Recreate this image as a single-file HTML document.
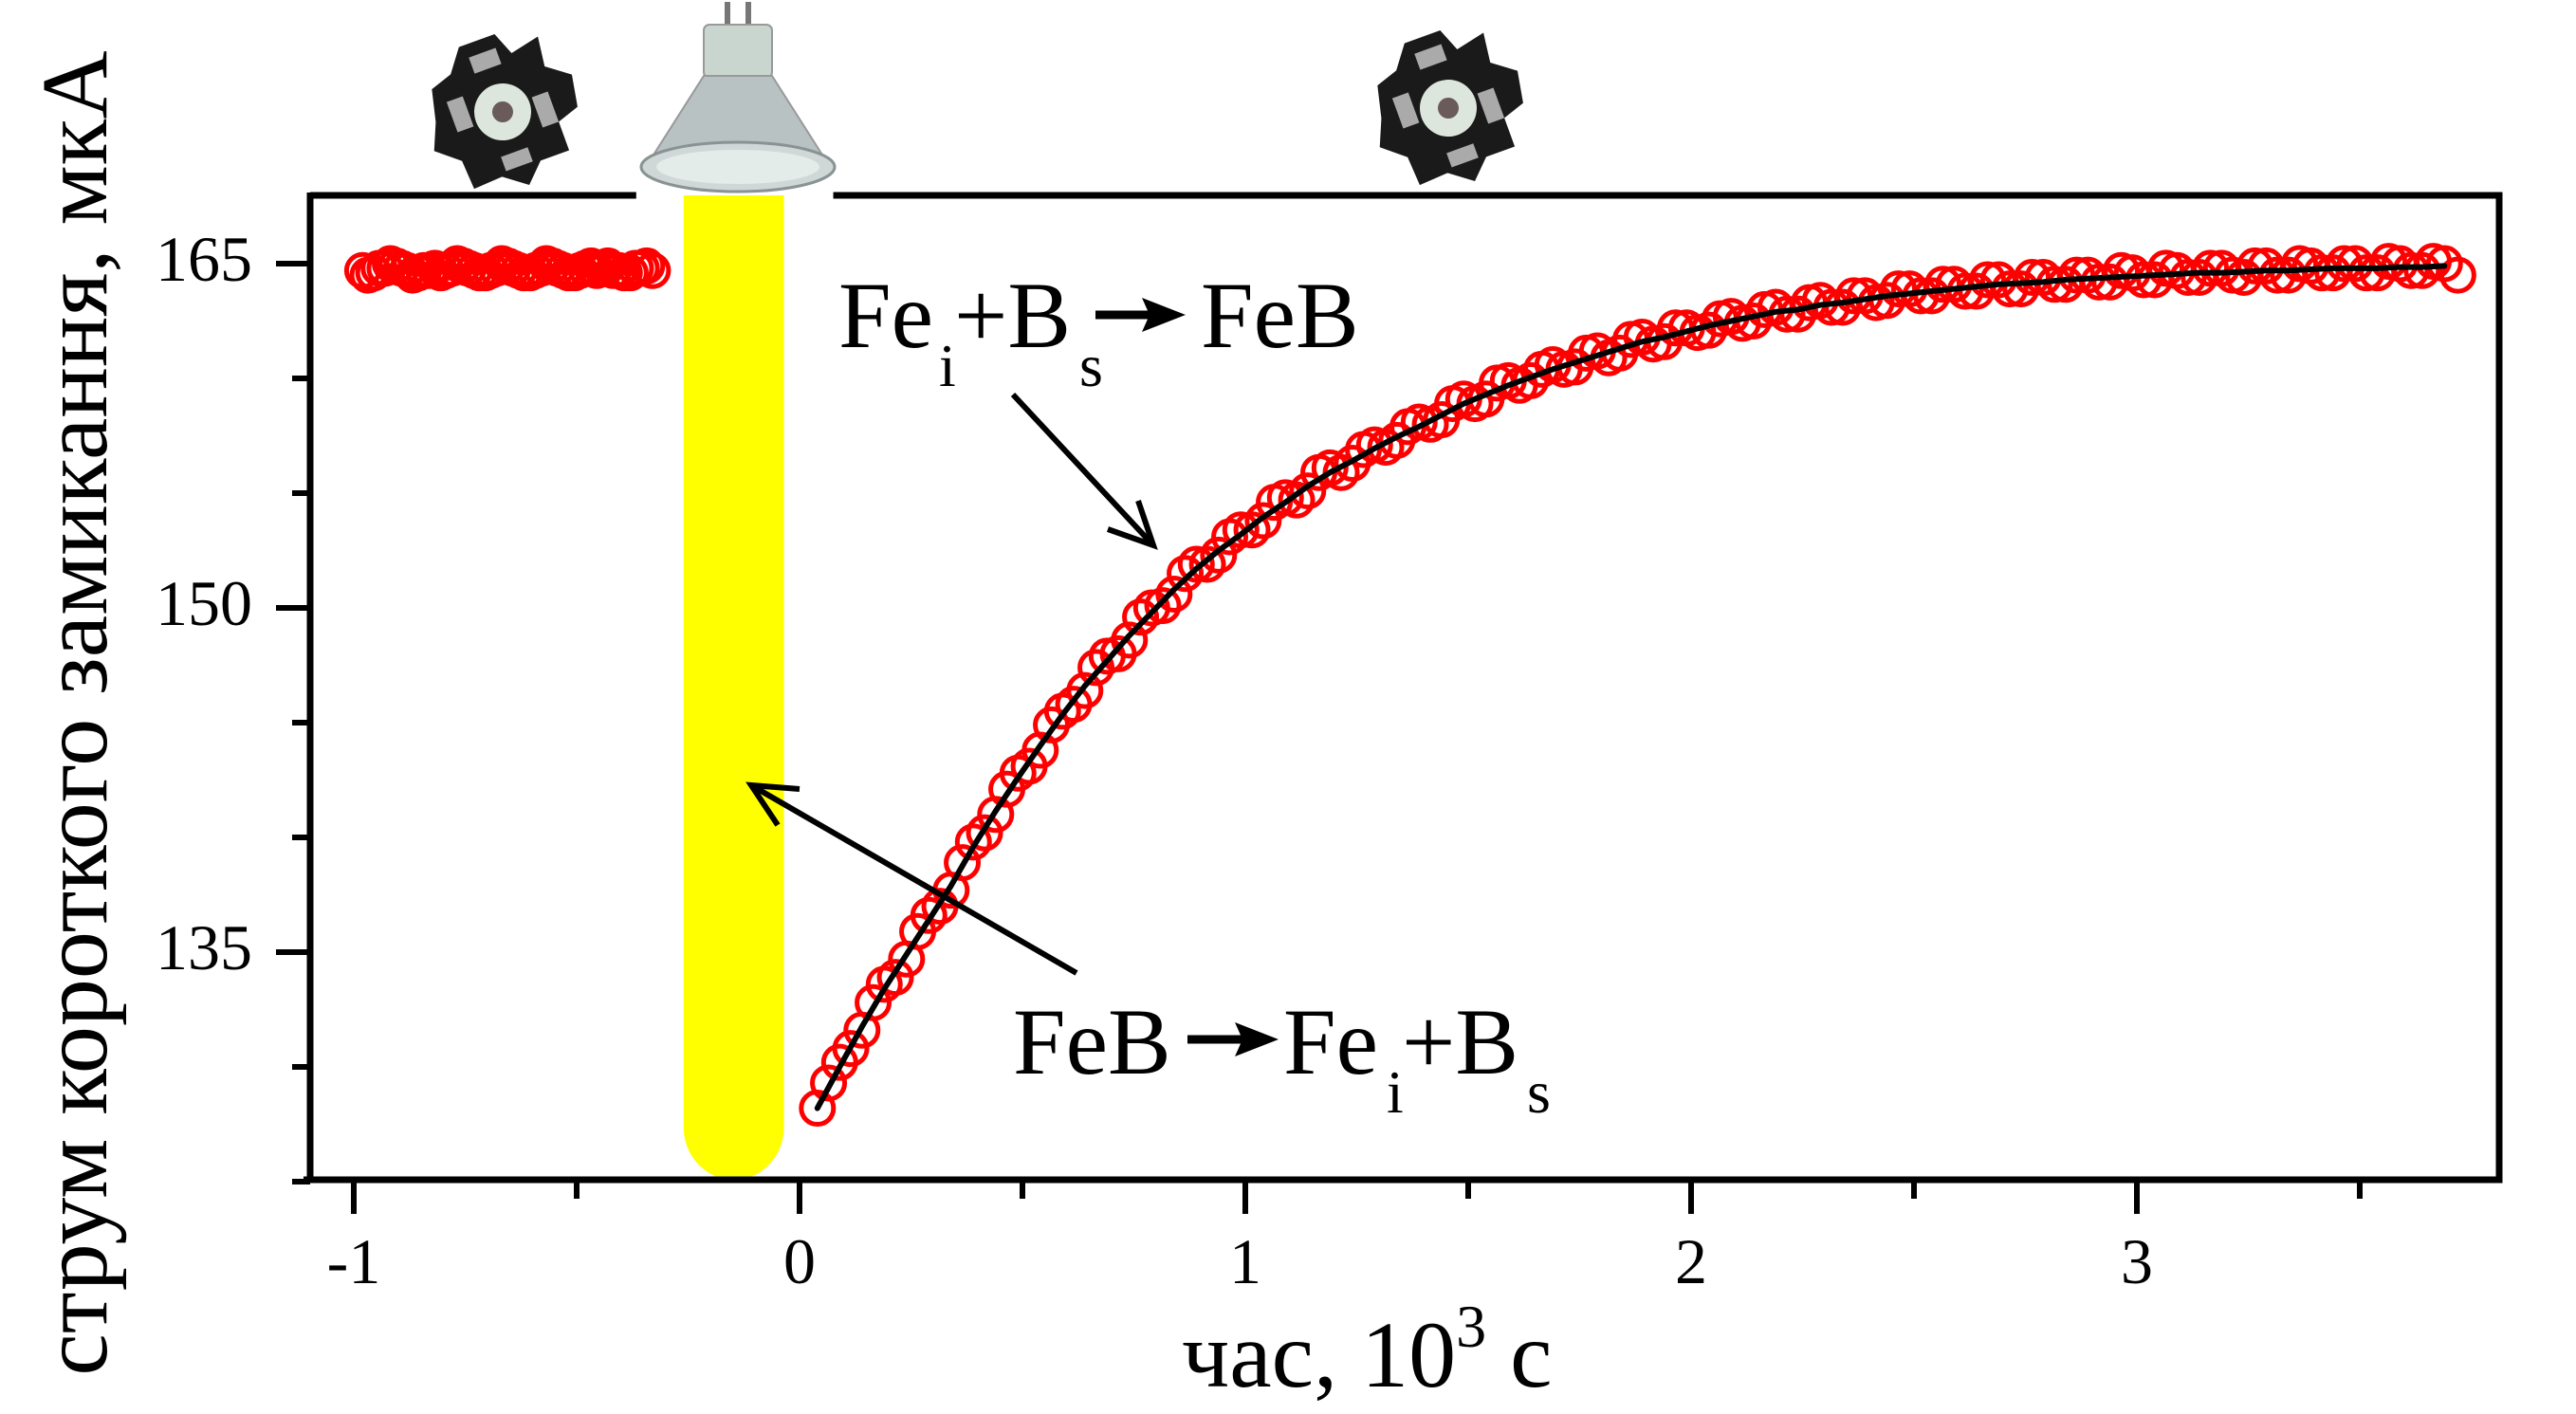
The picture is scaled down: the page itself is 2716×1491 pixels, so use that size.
<!DOCTYPE html>
<html><head><meta charset="utf-8"><style>
html,body{margin:0;padding:0;background:#fff;}
svg{display:block;}
text{font-family:"Liberation Serif","DejaVu Serif",serif;fill:#000;}
</style></head><body>
<svg id="chart" xmlns="http://www.w3.org/2000/svg" width="2716" height="1491" viewBox="0 0 2716 1491">
  <rect x="0" y="0" width="2716" height="1491" fill="#fff"/>

  <g transform="translate(530,118) rotate(-20)">
    <path d="M-20,-80 L20,-80 L30,-55 L62,-62 L58,-30 L82,-12 L76,22 L52,30 L52,62 L20,62 L0,82 L-24,64 L-56,66 L-58,34 L-82,14 L-70,-14 L-62,-48 L-38,-56 Z" fill="#1a1a1a"/>
    <rect x="-52" y="-30" width="18" height="34" fill="#aaa"/>
    <rect x="34" y="-4" width="18" height="34" fill="#aaa"/>
    <rect x="-14" y="-66" width="30" height="18" fill="#aaa"/>
    <rect x="-18" y="44" width="30" height="16" fill="#aaa"/>
    <circle cx="0" cy="0" r="30" fill="#dde6dd"/>
    <circle cx="0" cy="0" r="11" fill="#6a5a5a"/>
  </g>
  <g transform="translate(1527,114) rotate(-20)">
    <path d="M-20,-80 L20,-80 L30,-55 L62,-62 L58,-30 L82,-12 L76,22 L52,30 L52,62 L20,62 L0,82 L-24,64 L-56,66 L-58,34 L-82,14 L-70,-14 L-62,-48 L-38,-56 Z" fill="#1a1a1a"/>
    <rect x="-52" y="-30" width="18" height="34" fill="#aaa"/>
    <rect x="34" y="-4" width="18" height="34" fill="#aaa"/>
    <rect x="-14" y="-66" width="30" height="18" fill="#aaa"/>
    <rect x="-18" y="44" width="30" height="16" fill="#aaa"/>
    <circle cx="0" cy="0" r="30" fill="#dde6dd"/>
    <circle cx="0" cy="0" r="11" fill="#6a5a5a"/>
  </g>
  <g>
    <rect x="764" y="2" width="6" height="26" fill="#777"/>
    <rect x="786" y="2" width="6" height="26" fill="#777"/>
    <rect x="742" y="26" width="72" height="56" rx="6" fill="#c9d6cf" stroke="#999" stroke-width="2"/>
    <path d="M742,80 L814,80 L870,168 L686,168 Z" fill="#b8c2c2" stroke="#999" stroke-width="2"/>
    <ellipse cx="778" cy="176" rx="102" ry="26" fill="#cfd8d6" stroke="#8a9393" stroke-width="3"/>
    <ellipse cx="778" cy="176" rx="86" ry="18" fill="#e4ecea"/>
  </g>

  <g id="plot"></g>
</svg>
<script>
// ---- data ----
const xTickValues = [-1, 0, 1, 2, 3];
const xTickLabels = ["-1", "0", "1", "2", "3"];
const yTickValues = [135, 150, 165];
const yTickLabels = ["135", "150", "165"];

const preTimes = [-0.98,-0.955,-0.93,-0.905,-0.88,-0.855,-0.83,-0.805,-0.78,-0.755,-0.73,-0.705,-0.68,-0.655,-0.63,-0.605,-0.58,-0.555,-0.53,-0.505,-0.48,-0.455,-0.43,-0.405,-0.38,-0.355,-0.33];
const preValues = [164.7,164.6,164.8,164.9,164.7,164.6,164.7,164.6,164.8,164.9,164.7,164.6,164.8,164.9,164.7,164.6,164.8,164.9,164.7,164.6,164.8,164.7,164.9,164.7,164.6,164.8,164.7];
const preTimesB = [-0.968,-0.943,-0.918,-0.893,-0.868,-0.843,-0.818,-0.793,-0.768,-0.743,-0.718,-0.693,-0.668,-0.643,-0.618,-0.593,-0.568,-0.543,-0.518,-0.493,-0.468,-0.443,-0.418,-0.393,-0.368,-0.343];
const preValuesB = [164.5,164.8,165.0,164.8,164.5,164.7,164.8,164.7,165.0,164.8,164.6,164.7,165.0,164.8,164.6,164.7,165.0,164.8,164.6,164.7,164.9,164.8,164.7,164.6,164.8,164.9];

const postTimes = [0.04,0.09,0.14,0.19,0.24,0.29,0.34,0.39,0.44,0.49,0.54,0.59,0.64,0.69,0.74,0.79,0.84,0.89,0.94,0.99,1.04,1.09,1.14,1.19,1.24,1.29,1.34,1.39,1.44,1.49,1.54,1.59,1.64,1.69,1.74,1.79,1.84,1.89,1.94,1.99,2.04,2.09,2.14,2.19,2.24,2.29,2.34,2.39,2.44,2.49,2.54,2.59,2.64,2.69,2.74,2.79,2.84,2.89,2.94,2.99,3.04,3.09,3.14,3.19,3.24,3.29,3.34,3.39,3.44,3.49,3.54,3.59,3.64,3.69,3.72];
const postValues = [128.2,130.2,131.6,133.6,134.7,136.6,137.7,139.8,141.0,142.8,143.8,145.5,146.4,147.9,148.6,150.0,150.6,151.9,152.3,153.4,153.8,154.8,155.1,156.1,156.3,157.1,157.3,158.1,158.2,159.1,159.1,159.9,159.9,160.6,160.5,161.2,161.1,161.8,161.6,162.2,162.1,162.7,162.5,163.1,162.8,163.4,163.1,163.6,163.4,163.9,163.6,164.1,163.8,164.3,163.9,164.4,164.1,164.5,164.2,164.6,164.3,164.7,164.4,164.8,164.4,164.9,164.5,164.9,164.6,165.0,164.6,165.0,164.7,165.0,164.5];
const postTimesB = [0.065,0.115,0.165,0.215,0.265,0.315,0.365,0.415,0.465,0.515,0.565,0.615,0.665,0.715,0.765,0.815,0.865,0.915,0.965,1.015,1.065,1.115,1.165,1.215,1.265,1.315,1.365,1.415,1.465,1.515,1.565,1.615,1.665,1.715,1.765,1.815,1.865,1.915,1.965,2.015,2.065,2.115,2.165,2.215,2.265,2.315,2.365,2.415,2.465,2.515,2.565,2.615,2.665,2.715,2.765,2.815,2.865,2.915,2.965,3.015,3.065,3.115,3.165,3.215,3.265,3.315,3.365,3.415,3.465,3.515,3.565,3.615,3.665];
const postValuesB = [129.3,130.8,132.8,133.9,135.9,137.0,138.9,140.2,142.1,143.1,144.9,145.8,147.4,148.0,149.6,150.1,151.5,151.9,153.1,153.4,154.6,154.7,155.9,155.9,156.9,157.0,157.9,158.0,158.9,158.9,159.8,159.7,160.4,160.4,161.1,160.9,161.7,161.5,162.2,162.0,162.6,162.4,163.0,162.8,163.3,163.1,163.6,163.3,163.9,163.6,164.1,163.8,164.3,163.9,164.4,164.1,164.5,164.2,164.7,164.3,164.8,164.4,164.8,164.5,164.9,164.5,165.0,164.6,165.0,164.6,165.1,164.7,165.1];

const fitTimes = [0.04,0.09,0.14,0.19,0.24,0.29,0.34,0.39,0.44,0.49,0.54,0.59,0.64,0.69,0.74,0.79,0.84,0.89,0.94,0.99,1.04,1.09,1.14,1.19,1.24,1.29,1.34,1.39,1.44,1.49,1.54,1.59,1.64,1.69,1.74,1.79,1.84,1.89,1.94,1.99,2.04,2.09,2.14,2.19,2.24,2.29,2.34,2.39,2.44,2.49,2.54,2.59,2.64,2.69,2.74,2.79,2.84,2.89,2.94,2.99,3.04,3.09,3.14,3.19,3.24,3.29,3.34,3.39,3.44,3.49,3.54,3.59,3.64,3.69];
const fitValues = [128.2,130.0,131.75,133.4,134.9,136.4,137.9,139.6,141.15,142.6,144.0,145.35,146.6,147.7,148.8,149.8,150.8,151.7,152.5,153.2,153.95,154.6,155.3,155.9,156.4,156.95,157.45,157.9,158.4,158.9,159.3,159.7,160.05,160.4,160.7,161.0,161.3,161.6,161.8,162.05,162.3,162.5,162.7,162.9,163.0,163.2,163.3,163.45,163.6,163.7,163.8,163.9,164.0,164.1,164.15,164.2,164.3,164.35,164.4,164.45,164.5,164.55,164.6,164.6,164.65,164.7,164.7,164.75,164.8,164.8,164.8,164.85,164.85,164.9];

// ---- axes ----
const X0 = 843, XU = 470;
const Y0 = 278, YU = 24.2;
const xs = v => X0 + v * XU;
const ys = v => Y0 + (165 - v) * YU;
const L = 327, R = 2635, T = 206, B = 1244;

const NS = "http://www.w3.org/2000/svg";
const plot = document.getElementById("plot");
function mk(tag, attrs, parent) {
  const e = document.createElementNS(NS, tag);
  for (const k in attrs) e.setAttribute(k, attrs[k]);
  (parent || plot).appendChild(e);
  return e;
}

const lightStart = -0.26, lightEnd = -0.035;
const bar = mk("path", {d: `M${xs(lightStart)},${T} L${xs(lightEnd)},${T} L${xs(lightEnd)},${B-55} A${(xs(lightEnd)-xs(lightStart))/2},55 0 0 1 ${xs(lightStart)},${B-55} Z`, fill: "#ffff00"});



const frame = mk("path", {d: `M${L},${T} L${xs(lightStart)-50},${T} M${xs(lightEnd)+52},${T} L${R},${T} L${R},${B} L${L-7},${B} M${L},${B} L${L},${T-3}`, fill: "none", stroke: "#000", "stroke-width": 7});



for (let v = -1; v <= 3.5; v += 0.5) {
  const major = Math.abs(v - Math.round(v)) < 1e-6;
  const t = mk("line", {x1: xs(v), y1: B, x2: xs(v), y2: B + (major ? 36 : 20), stroke: "#000", "stroke-width": 6});
  
  
}
xTickValues.forEach((v, i) => {
  const t = mk("text", {x: xs(v), y: 1353, "font-size": 68, "text-anchor": "middle"});
  t.textContent = xTickLabels[i];
  
  
});
for (let v = 125; v <= 165; v += 5) {
  const major = (v === 135 || v === 150 || v === 165);
  const t = mk("line", {x1: L, y1: ys(v), x2: L - (major ? 36 : 19), y2: ys(v), stroke: "#000", "stroke-width": 6});
  
  
}
yTickValues.forEach((v, i) => {
  const t = mk("text", {x: 266, y: ys(v) + 18, "font-size": 68, "text-anchor": "end"});
  t.textContent = yTickLabels[i];
  
  
});

const marks = mk("g", {fill: "none", stroke: "#ff0000", "stroke-width": 5});


function drawPoints(times, values, name) {
  times.forEach((tv, i) => {
    const c = mk("circle", {cx: xs(tv), cy: ys(values[i]), r: 17}, marks);
    
    
  });
}
drawPoints(preTimes, preValues, 'data-point-dark');
drawPoints(preTimesB, preValuesB, 'data-point-dark');
drawPoints(postTimes, postValues, 'data-point-relaxation');
drawPoints(postTimesB, postValuesB, 'data-point-relaxation');

const fit = mk("polyline", {points: fitTimes.map((tv, i) => xs(tv) + "," + ys(fitValues[i])).join(" "), fill: "none", stroke: "#000", "stroke-width": 6, "stroke-linejoin": "round", "stroke-linecap": "round"});


</script>

<svg style="position:absolute;left:0;top:0" width="2716" height="1491" viewBox="0 0 2716 1491" xmlns="http://www.w3.org/2000/svg">
  <g>
    <text x="884" y="366" font-size="100">Fe</text>
    <text x="990" y="407" font-size="64">i</text>
    <text x="1006" y="366" font-size="100">+B</text>
    <text x="1138" y="407" font-size="64">s</text>
    <line x1="1155" y1="332" x2="1220" y2="332" stroke="#000" stroke-width="9"/>
    <path d="M1250,332 L1204,314 L1212,332 L1204,350 Z" fill="#000"/>
    <text x="1266" y="366" font-size="100">FeB</text>
  </g>
  <g fill="none" stroke="#000" stroke-width="6">
    <line x1="1068" y1="416" x2="1216" y2="575"/>
    <path d="M1168,558 L1216,575 L1200,528"/>
  </g>
  <g>
    <text x="1068" y="1132" font-size="100">FeB</text>
    <line x1="1252" y1="1096" x2="1318" y2="1096" stroke="#000" stroke-width="9"/>
    <path d="M1348,1096 L1302,1078 L1310,1096 L1302,1114 Z" fill="#000"/>
    <text x="1353" y="1132" font-size="100">Fe</text>
    <text x="1462" y="1173" font-size="64">i</text>
    <text x="1478" y="1132" font-size="100">+B</text>
    <text x="1610" y="1173" font-size="64">s</text>
  </g>
  <g fill="none" stroke="#000" stroke-width="6">
    <line x1="1135" y1="1026" x2="792" y2="828"/>
    <path d="M843,832 L792,828 L820,870"/>
  </g>
  <text transform="translate(112,752) rotate(-90)" font-size="100" text-anchor="middle">струм короткого замикання, мкА</text>
  <text x="1246" y="1462" font-size="100">час, 10<tspan font-size="64" dy="-42">3</tspan><tspan dy="42"> с</tspan></text>
</svg>
</body></html>
